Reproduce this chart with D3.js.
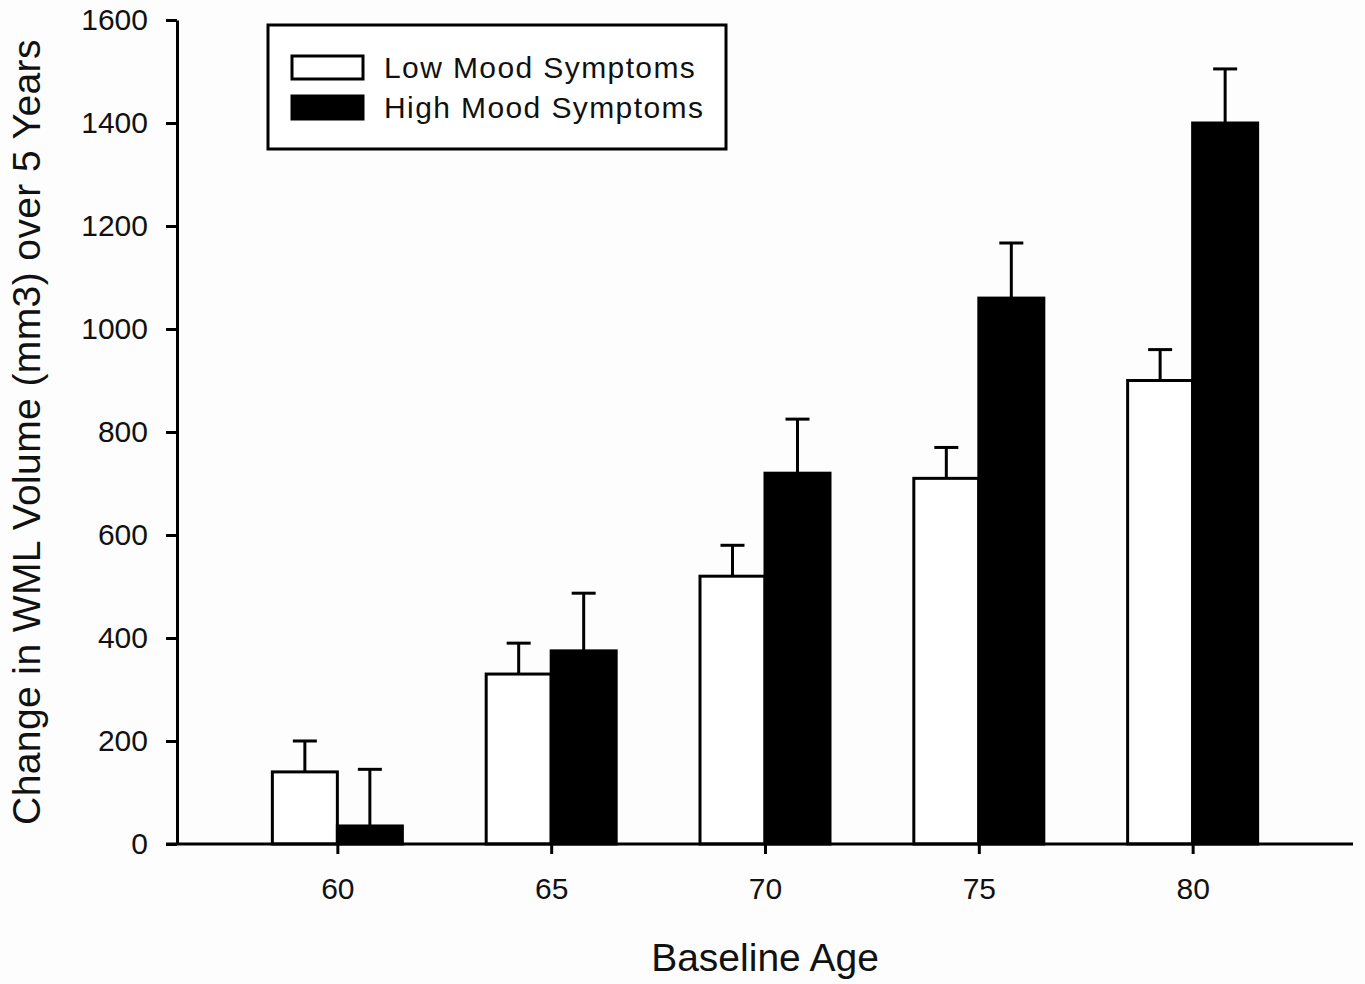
<!DOCTYPE html>
<head>
  <meta charset="utf-8">
  <title>WML change by baseline age</title>
  <script src="https://d3js.org/d3.v7.min.js"></script>
  <style>
  body { margin: 0; background: #fdfdfd; }
  text { font-family: "Liberation Sans", Arial, sans-serif; fill: #111; }
  </style>
</head>
<body>
  <script>

    // Data
    var ages = [60, 65, 70, 75, 80];
    var lowMood = [140, 330, 520, 710, 900];
    var lowMoodErr = [60, 60, 60, 60, 60];
    var highMood = [35, 375, 720, 1060, 1400];
    var highMoodErr = [110, 112, 105, 107, 105];
    var yTicks = [0, 200, 400, 600, 800, 1000, 1200, 1400, 1600];
    var seriesNames = ["Low Mood Symptoms", "High Mood Symptoms"];

    var width = 1365, height = 984;
    var barHalf = 1.52;   // bar width in years
    var capW = 12;        // half width of error bar caps

    var svg = d3.select("body").append("svg")
      .attr("width", width)
      .attr("height", height);

    // Scales
    var x = d3.scaleLinear().domain([56.25, 83.75]).range([177, 1353]);
    var y = d3.scaleLinear().domain([0, 1600]).range([844, 20]);

    // Build bar rows from the arrays
    var bars = [];
    ages.forEach(function(a, i) {
      bars.push({age: a, x0: a - barHalf, x1: a, v: lowMood[i], e: lowMoodErr[i], fill: "#ffffff"});
      bars.push({age: a, x0: a, x1: a + barHalf, v: highMood[i], e: highMoodErr[i], fill: "#000000"});
    });

    // Error bars (drawn first so the bar top covers the stem base)
    var err = svg.append("g").attr("stroke", "#000").attr("stroke-width", 3);
    err.selectAll(".stem")
      .data(bars)
      .enter().append("line")
      .attr("x1", function(d) { return x((d.x0 + d.x1) / 2); })
      .attr("x2", function(d) { return x((d.x0 + d.x1) / 2); })
      .attr("y1", function(d) { return y(d.v); })
      .attr("y2", function(d) { return y(d.v + d.e); });
    err.selectAll(".cap")
      .data(bars)
      .enter().append("line")
      .attr("x1", function(d) { return x((d.x0 + d.x1) / 2) - capW; })
      .attr("x2", function(d) { return x((d.x0 + d.x1) / 2) + capW; })
      .attr("y1", function(d) { return y(d.v + d.e); })
      .attr("y2", function(d) { return y(d.v + d.e); });

    // Bars
    svg.selectAll(".bar")
      .data(bars)
      .enter().append("rect")
      .attr("class", "bar")
      .attr("x", function(d) { return x(d.x0); })
      .attr("width", function(d) { return x(d.x1) - x(d.x0); })
      .attr("y", function(d) { return y(d.v); })
      .attr("height", function(d) { return y(0) - y(d.v); })
      .attr("fill", function(d) { return d.fill; })
      .attr("stroke", "#000")
      .attr("stroke-width", 3);

    // Axes
    var xAxis = svg.append("g")
      .attr("transform", "translate(0," + y(0) + ")")
      .call(d3.axisBottom(x).tickValues(ages).tickSize(10).tickSizeOuter(0).tickPadding(24));
    var yAxis = svg.append("g")
      .attr("transform", "translate(" + x(56.25) + ",0)")
      .call(d3.axisLeft(y).tickValues(yTicks).tickFormat(d3.format("d"))
        .tickSize(11).tickSizeOuter(0).tickPadding(18));

    [xAxis, yAxis].forEach(function(g) {
      g.attr("font-family", null).attr("font-size", null);
      g.select(".domain").attr("stroke", "#000").attr("stroke-width", 3);
      g.selectAll(".tick line").attr("stroke", "#000").attr("stroke-width", 3);
      g.selectAll(".tick text")
        .attr("font-size", 30)
        .attr("fill", "#111");
    });
    xAxis.select(".domain").attr("d", "M" + (x(56.25) - 11) + ",0H" + x(83.75));

    // Axis titles
    svg.append("text")
      .attr("x", x(70))
      .attr("y", 971)
      .attr("text-anchor", "middle")
      .attr("font-size", 39)
      .text("Baseline Age");

    svg.append("text")
      .attr("transform", "translate(40,432) rotate(-90)")
      .attr("text-anchor", "middle")
      .attr("font-size", 39)
      .attr("letter-spacing", 0.4)
      .text("Change in WML Volume (mm3) over 5 Years");

    // Legend
    var legend = svg.append("g");
    legend.append("rect")
      .attr("x", 268).attr("y", 25)
      .attr("width", 458).attr("height", 124)
      .attr("fill", "#fff").attr("stroke", "#000").attr("stroke-width", 3);
    var items = legend.selectAll(".item")
      .data(seriesNames)
      .enter().append("g")
      .attr("transform", function(d, i) { return "translate(0," + (i * 40) + ")"; });
    items.append("rect")
      .attr("x", 292).attr("y", 56)
      .attr("width", 71).attr("height", 23)
      .attr("fill", function(d, i) { return i === 0 ? "#fff" : "#000"; })
      .attr("stroke", "#000").attr("stroke-width", 3);
    items.append("text")
      .attr("x", 384).attr("y", 78)
      .attr("font-size", 30)
      .attr("letter-spacing", 1.4)
      .text(function(d) { return d; });

  </script>
</body>
</html>
